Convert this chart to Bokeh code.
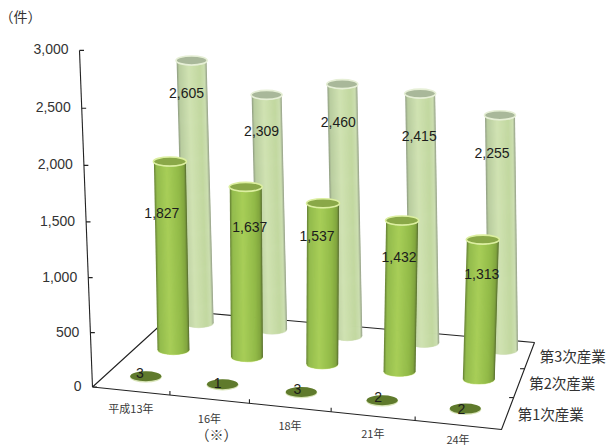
import numpy as np
from bokeh.core.properties import value
from bokeh.embed import file_html
from bokeh.models import Range1d
from bokeh.plotting import figure
from bokeh.resources import INLINE

# Data
years = ["平成13年", "16年", "18年", "21年", "24年"]
sectors = ["第1次産業", "第2次産業", "第3次産業"]
primary = [3, 1, 3, 2, 2]
secondary = [1827, 1637, 1537, 1432, 1313]
tertiary = [2605, 2309, 2460, 2415, 2255]
y_ticks = [0, 500, 1000, 1500, 2000, 2500, 3000]

W, H = 607, 447
CJK = value("Noto Sans CJK JP")
LATIN = value("Liberation Sans")
INK = "#333333"

p = figure(width=W, height=H, output_backend="svg", toolbar_location=None,
           x_range=Range1d(0, W), y_range=Range1d(H, 0), min_border=0,
           outline_line_color=None, background_fill_color="white")
p.axis.visible = False
p.grid.visible = False

# Floor of the 3D box, as a homography of the unit square
FL, FR, BR, BL = map(np.array, [(92, 386.5), (501, 429), (534, 342), (176, 310)])


def floor_matrix():
    src = [(0, 0), (1, 0), (1, 1), (0, 1)]
    dst = [FL, FR, BR, BL]
    a, b = [], []
    for (u, v), (x, y) in zip(src, dst):
        a.append([u, v, 1, 0, 0, 0, -u * x, -v * x])
        a.append([0, 0, 0, u, v, 1, -u * y, -v * y])
        b += [x, y]
    return np.append(np.linalg.solve(np.array(a, float), np.array(b, float)), 1).reshape(3, 3)


M = floor_matrix()


def floor(u, v):
    q = M @ np.array([u, v, 1.0])
    return q[:2] / q[2]


def project(u, v, h):
    """Screen position of a point at height h above floor position (u, v)."""
    x, y = floor(u, v)
    far = v > 0.7
    if far:
        x += 15 * (u - 0.1)
        y -= 2.5
    scale = (0.1037 if far else 0.1045) - 0.0045 * (v - 0.5) + 0.004 * (u - 0.5)
    lean = (-0.027 + 0.0175 * (u - 0.1)) if far else (-0.019 + 0.06 * (u - 0.1))
    px = h * scale
    return x + lean * px, y - px


def axis_point(h):
    # the value axis narrows slightly with height
    t = h / 3000
    return 92 - 13 * t, 386.5 - 0.108 * h - 1.4e-6 * h * h


def line(pts, width=1.1, color="#222222"):
    xs, ys = zip(*pts)
    p.line(list(xs), list(ys), line_color=color, line_width=width)


def label(x, y, text, font=LATIN, size="14px", color=INK, align="center"):
    p.text([x], [y], text=[text], text_font=font, text_font_size=size,
           text_color=color, text_align=align, text_baseline="middle")


# Frame
line([FL, FR, BR, BL, FL])
line([axis_point(0), axis_point(3000)])
for h in y_ticks:
    x, y = axis_point(h)
    line([(x, y), (x + 4.5, y)])
    label(x - 11, y - 1, f"{h:,}", align="right")
for i in range(1, 5):
    x, y = floor(i / 5, 0)
    line([(x, y), (x, y - 4)])
for j in range(1, 3):
    x, y = floor(1, j / 3)
    line([(x, y), (x - 4.5, y)])


def ramp(stops, n):
    pos = np.linspace(0, 1, n)
    xp = [s[0] for s in stops]
    rgb = np.array([s[1] for s in stops], float)
    return [tuple(int(round(np.interp(t, xp, rgb[:, k]))) for k in range(3)) for t in pos]


SHADE_LIGHT = [(0, (150, 165, 135)), (0.06, (184, 204, 158)), (0.4, (208, 226, 178)),
               (0.78, (194, 216, 160)), (0.94, (204, 222, 176)), (1, (160, 172, 145))]
SHADE_DARK = [(0, (110, 140, 58)), (0.06, (146, 186, 76)), (0.4, (168, 206, 88)),
              (0.78, (146, 186, 72)), (0.95, (128, 164, 62)), (1, (96, 120, 52))]


def cylinder(u, v, h, half_w, shade, cap, rim, base_rim):
    bx, by = project(u, v, 0)
    tx, ty = project(u, v, h)
    b = 5.0
    n = 30
    colors = ramp(shade, n)
    edges = np.linspace(-1, 1, n + 1)
    xs, ys, cs = [], [], []
    for k in range(n):
        t0, t1 = edges[k], edges[k + 1] + (0.05 if k < n - 1 else 0)
        dip0 = b * np.sqrt(max(0, 1 - t0 * t0))
        dip1 = b * np.sqrt(max(0, 1 - t1 * t1))
        xs.append([tx + t0 * half_w, tx + t1 * half_w, bx + t1 * half_w, bx + t0 * half_w])
        ys.append([ty + dip0, ty + dip1, by + dip1, by + dip0])
        cs.append("#%02x%02x%02x" % colors[k])
    # pale lip under the bottom edge
    p.ellipse([bx], [by + 0.7], width=2 * half_w, height=2 * b, fill_color=base_rim, line_color=None)
    p.patches(xs, ys, fill_color=cs, line_color=None)
    p.ellipse([tx], [ty], width=2 * half_w + 1, height=2 * b - 1, fill_color=cap,
              line_color=rim, line_width=1.6)


# Back row first, so the nearer rows overlap it
for i, h in enumerate(tertiary):
    cylinder((i + 0.5) / 5, 5 / 6, h, 15, SHADE_LIGHT, "#a9b89a", "#e6efd6", "#dfe8cf")
for i, h in enumerate(secondary):
    cylinder((i + 0.5) / 5, 1 / 2, h, 16, SHADE_DARK, "#8aa848", "#dcefa0", "#d8eb9c")
for i, h in enumerate(primary):
    x, y = project((i + 0.5) / 5, 1 / 6, h)
    p.ellipse([x], [y + 0.8], width=32, height=11, fill_color="#d8e4b8", line_color=None)
    p.ellipse([x], [y], width=31, height=10, fill_color="#5f7a2c", line_color=None)

# Value labels sit on the cylinders, each nudged from its cap
nudge_secondary = [(-8, 51), (4, 40), (-6, 33), (-3, 36), (-1, 34)]
nudge_tertiary = [(-5, 33), (-5, 36), (-4, 38), (-1, 42), (-8, 38)]
nudge_primary = [(-6, -3), (-5, -1), (-4, -3), (-4, -3), (-4, 0)]
rows = [(primary, 1 / 6, nudge_primary), (secondary, 1 / 2, nudge_secondary), (tertiary, 5 / 6, nudge_tertiary)]
for vals, v, nudges in rows:
    for i, h in enumerate(vals):
        x, y = project((i + 0.5) / 5, v, h)
        label(x + nudges[i][0], y + nudges[i][1], f"{h:,}", color="#1c1c1c")

# Category and depth labels along the front and right floor edges
year_drop = [17, 19, 17, 17, 14]
for i, name in enumerate(years):
    x, y = floor((i + 0.5) / 5, 0)
    label(x, y + year_drop[i], name, font=CJK, size="11px", color="#3a3a3a")
x16, y16 = floor(0.3, 0)
label(x16 + 7, y16 + 35, "（※）", font=CJK, size="14px", color="#3a3a3a")
for j, name in enumerate(sectors):
    x, y = floor(1, (j + 0.5) / 3)
    label(x + 10, y, name, font=CJK, size="14.5px", align="left")

label(20, 15, "（件）", font=CJK, size="14px")

open("out.html", "w").write(file_html(p, INLINE))
